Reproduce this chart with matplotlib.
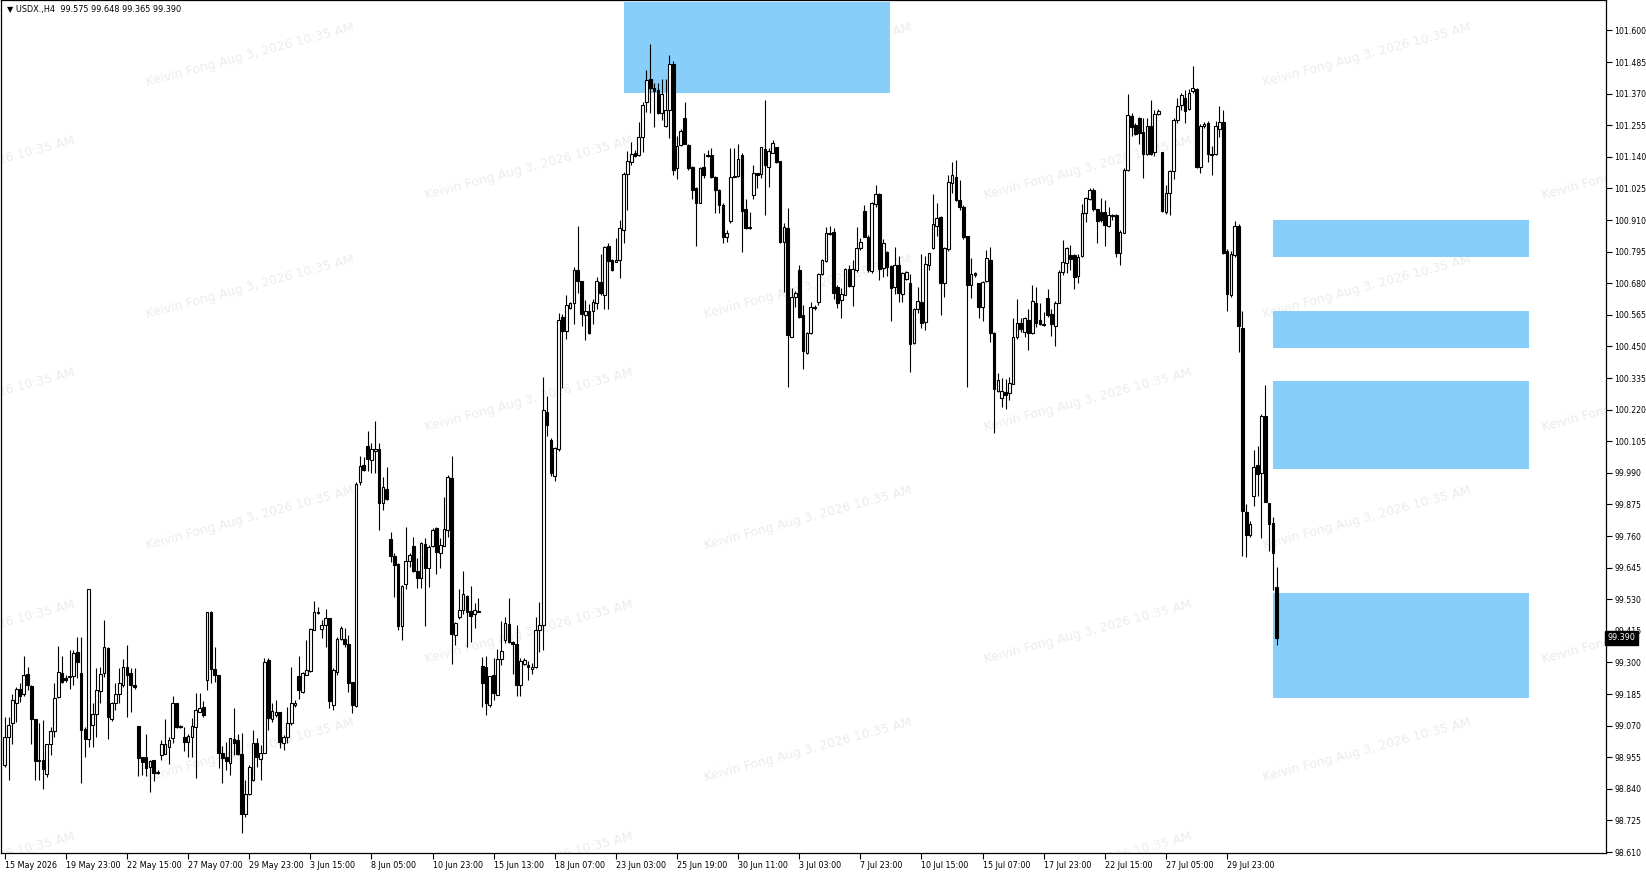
import numpy as np
import matplotlib
matplotlib.use("Agg")
import matplotlib.pyplot as plt
import matplotlib.transforms as mtransforms
from matplotlib.patches import Rectangle

# USDX H4 candles
opens = [
    98.926, 99.029, 99.078, 99.151, 99.205, 99.185, 99.258, 99.214, 99.093, 98.945,
    98.945, 98.894, 99.003, 99.051, 99.175, 99.260, 99.242, 99.248, 99.250, 99.339,
    99.260, 99.056, 99.023, 99.072, 99.114, 99.197, 99.260, 99.351, 99.096, 99.151,
    99.185, 99.218, 99.283, 99.261, 99.218, 99.067, 98.957, 98.955, 98.919, 98.945,
    98.903, 98.964, 98.967, 98.994, 99.024, 99.152, 99.064, 99.030, 99.012, 99.030,
    99.064, 99.121, 99.137, 99.236, 99.482, 99.275, 99.255, 98.970, 98.957, 98.933,
    99.021, 99.018, 98.967, 98.749, 98.822, 98.873, 99.006, 98.948, 98.970, 99.309,
    99.093, 99.109, 99.121, 99.008, 99.028, 99.079, 99.145, 99.249, 99.194, 99.255,
    99.270, 99.418, 99.485, 99.421, 99.437, 99.461, 99.145, 99.267, 99.384, 99.384,
    99.367, 99.230, 99.142, 99.955, 100.019, 100.086, 100.037, 100.071, 100.076, 99.882,
    99.930, 99.748, 99.688, 99.659, 99.431, 99.586, 99.671, 99.724, 99.634, 99.606,
    99.731, 99.643, 99.724, 99.788, 99.697, 99.724, 99.782, 99.970, 99.400, 99.465,
    99.491, 99.542, 99.489, 99.477, 99.489, 99.287, 99.285, 99.145, 99.255, 99.182,
    99.312, 99.382, 99.439, 99.374, 99.368, 99.219, 99.294, 99.291, 99.275, 99.283,
    99.419, 99.435, 100.212, 100.111, 99.980, 100.076, 100.556, 100.505, 100.591, 100.607,
    100.729, 100.688, 100.564, 100.580, 100.580, 100.607, 100.684, 100.639, 100.816, 100.764,
    100.756, 100.764, 100.873, 101.077, 101.120, 101.153, 101.147, 101.213, 101.341, 101.422,
    101.389, 101.383, 101.298, 101.252, 101.310, 101.478, 101.098, 101.183, 101.280, 101.183,
    101.104, 101.025, 100.973, 101.102, 101.147, 101.147, 101.068, 101.019, 100.965, 100.849,
    100.908, 101.068, 101.070, 101.147, 100.949, 100.886, 101.001, 101.080, 101.078, 101.167,
    101.104, 101.155, 101.175, 101.126, 100.831, 100.880, 100.483, 100.631, 100.728, 100.565,
    100.425, 100.498, 100.595, 100.613, 100.714, 100.762, 100.859, 100.868, 100.665, 100.619,
    100.637, 100.731, 100.670, 100.728, 100.807, 100.944, 100.850, 100.726, 100.969, 101.005,
    100.734, 100.795, 100.743, 100.665, 100.747, 100.641, 100.694, 100.682, 100.461, 100.585,
    100.613, 100.540, 100.747, 100.807, 100.888, 100.920, 100.680, 100.803, 101.046, 101.068,
    100.983, 100.956, 100.852, 100.674, 100.716, 100.680, 100.595, 100.690, 100.765, 100.500,
    100.289, 100.261, 100.285, 100.279, 100.315, 100.483, 100.536, 100.503, 100.548, 100.500,
    100.609, 100.546, 100.531, 100.628, 100.568, 100.524, 100.609, 100.722, 100.752, 100.782,
    100.782, 100.706, 100.779, 100.934, 100.985, 101.019, 100.949, 100.940, 100.940, 100.888,
    100.928, 100.928, 100.791, 100.864, 101.094, 101.288, 101.255, 101.283, 101.230, 101.151,
    101.252, 101.158, 101.297, 101.158, 100.938, 101.007, 101.088, 101.276, 101.328, 101.356,
    101.314, 101.378, 101.388, 101.105, 101.252, 101.262, 101.151, 101.151, 101.241, 101.266,
    100.799, 100.636, 100.782, 100.890, 100.517, 99.849, 99.765, 99.907, 100.019, 99.988,
    100.197, 99.879, 99.807, 99.575,
]
highs = [
    99.102, 99.102, 99.187, 99.211, 99.224, 99.323, 99.284, 99.218, 99.096, 99.078,
    99.090, 99.005, 99.066, 99.224, 99.359, 99.323, 99.254, 99.345, 99.345, 99.393,
    99.393, 99.066, 99.569, 99.151, 99.278, 99.282, 99.454, 99.357, 99.157, 99.224,
    99.278, 99.311, 99.364, 99.279, 99.279, 99.067, 98.957, 99.040, 98.945, 98.945,
    98.909, 99.018, 99.093, 99.030, 99.178, 99.152, 99.072, 99.064, 99.040, 99.097,
    99.190, 99.190, 99.158, 99.485, 99.489, 99.358, 99.255, 98.996, 99.012, 99.024,
    99.133, 99.040, 99.042, 98.873, 98.927, 99.054, 99.024, 99.000, 99.315, 99.315,
    99.152, 99.164, 99.121, 99.036, 99.139, 99.283, 99.164, 99.324, 99.267, 99.382,
    99.424, 99.525, 99.501, 99.455, 99.494, 99.461, 99.279, 99.394, 99.431, 99.424,
    99.400, 99.230, 99.955, 100.052, 100.049, 100.144, 100.100, 100.180, 100.098, 99.976,
    100.010, 99.776, 99.697, 99.661, 99.582, 99.792, 99.697, 99.756, 99.679, 99.740,
    99.752, 99.728, 99.788, 99.792, 99.752, 99.901, 99.982, 100.052, 99.449, 99.566,
    99.634, 99.546, 99.579, 99.518, 99.534, 99.321, 99.324, 99.251, 99.315, 99.348,
    99.452, 99.467, 99.535, 99.379, 99.435, 99.315, 99.315, 99.307, 99.299, 99.467,
    99.519, 100.340, 100.268, 100.116, 100.084, 100.572, 100.569, 100.636, 100.612, 100.740,
    100.889, 100.688, 100.620, 100.604, 100.623, 100.704, 100.788, 100.816, 100.825, 100.767,
    100.844, 100.909, 101.085, 101.161, 101.194, 101.165, 101.268, 101.341, 101.458, 101.550,
    101.410, 101.410, 101.422, 101.425, 101.510, 101.490, 101.216, 101.240, 101.341, 101.187,
    101.106, 101.029, 101.104, 101.153, 101.165, 101.171, 101.070, 101.022, 100.971, 100.874,
    101.171, 101.174, 101.187, 101.153, 100.985, 100.940, 101.110, 101.083, 101.177, 101.347,
    101.171, 101.201, 101.177, 101.126, 100.898, 100.953, 100.662, 100.653, 100.747, 100.601,
    100.504, 100.613, 100.601, 100.719, 100.767, 100.886, 100.888, 100.880, 100.674, 100.662,
    100.734, 100.747, 100.765, 100.886, 100.844, 100.965, 100.856, 100.977, 101.038, 101.010,
    100.840, 100.799, 100.747, 100.811, 100.779, 100.722, 100.726, 100.714, 100.589, 100.668,
    100.787, 100.779, 100.791, 101.005, 100.971, 100.925, 100.813, 101.074, 101.123, 101.129,
    101.056, 100.965, 100.852, 100.771, 100.722, 100.682, 100.690, 100.801, 100.813, 100.504,
    100.355, 100.334, 100.330, 100.340, 100.552, 100.621, 100.552, 100.558, 100.585, 100.673,
    100.667, 100.607, 100.576, 100.661, 100.588, 100.616, 100.728, 100.837, 100.813, 100.819,
    100.788, 100.788, 100.970, 100.995, 101.025, 101.025, 100.952, 100.989, 100.983, 100.958,
    100.932, 100.932, 100.873, 101.098, 101.368, 101.300, 101.262, 101.286, 101.283, 101.283,
    101.346, 101.311, 101.314, 101.158, 101.039, 101.092, 101.283, 101.353, 101.374, 101.383,
    101.388, 101.471, 101.392, 101.258, 101.266, 101.269, 101.179, 101.269, 101.325, 101.311,
    100.803, 100.796, 100.907, 100.896, 100.580, 99.877, 99.814, 100.072, 100.088, 100.204,
    100.311, 99.879, 99.828, 99.648,
]
lows = [
    98.920, 98.872, 99.005, 99.084, 99.157, 99.177, 99.199, 99.005, 98.874, 98.872,
    98.841, 98.884, 98.963, 99.029, 99.169, 99.224, 99.230, 99.205, 99.218, 99.242,
    98.860, 98.957, 98.993, 98.993, 99.029, 99.151, 99.248, 99.023, 99.088, 99.127,
    99.151, 99.211, 99.103, 99.121, 99.205, 98.885, 98.891, 98.885, 98.830, 98.870,
    98.894, 98.945, 98.967, 98.931, 99.006, 99.061, 99.060, 98.976, 98.957, 98.957,
    98.879, 99.121, 99.103, 99.200, 99.224, 99.230, 98.915, 98.860, 98.909, 98.891,
    98.964, 98.964, 98.681, 98.739, 98.818, 98.867, 98.921, 98.873, 98.970, 99.054,
    99.085, 99.103, 98.988, 98.982, 99.006, 99.073, 99.139, 99.166, 99.188, 99.255,
    99.267, 99.418, 99.477, 99.388, 99.358, 99.133, 99.127, 99.255, 99.382, 99.358,
    99.194, 99.115, 99.139, 99.946, 99.998, 99.998, 99.991, 99.989, 99.782, 99.855,
    99.891, 99.667, 99.540, 99.418, 99.382, 99.566, 99.646, 99.631, 99.570, 99.570,
    99.431, 99.576, 99.722, 99.622, 99.643, 99.724, 99.758, 99.295, 99.364, 99.457,
    99.477, 99.358, 99.376, 99.424, 99.482, 99.139, 99.109, 99.139, 99.164, 99.182,
    99.291, 99.370, 99.371, 99.259, 99.179, 99.179, 99.291, 99.235, 99.259, 99.278,
    99.339, 99.347, 100.124, 99.980, 99.960, 100.068, 100.300, 100.476, 100.588, 100.532,
    100.644, 100.524, 100.473, 100.495, 100.532, 100.585, 100.636, 100.585, 100.588, 100.724,
    100.756, 100.700, 100.825, 100.948, 101.109, 101.140, 101.143, 101.159, 101.304, 101.301,
    101.247, 101.296, 101.274, 101.247, 101.207, 101.074, 101.058, 101.179, 101.187, 101.094,
    100.985, 100.815, 100.971, 101.062, 101.140, 101.062, 100.937, 100.934, 100.825, 100.831,
    100.900, 101.068, 101.068, 100.795, 100.876, 100.876, 100.986, 101.026, 101.062, 100.929,
    101.029, 101.153, 101.117, 100.825, 100.650, 100.304, 100.483, 100.592, 100.552, 100.367,
    100.423, 100.495, 100.583, 100.601, 100.710, 100.759, 100.856, 100.622, 100.589, 100.552,
    100.637, 100.665, 100.597, 100.722, 100.801, 100.847, 100.722, 100.719, 100.959, 100.692,
    100.704, 100.707, 100.544, 100.641, 100.613, 100.613, 100.692, 100.358, 100.459, 100.571,
    100.516, 100.510, 100.728, 100.803, 100.852, 100.565, 100.631, 100.799, 101.010, 100.981,
    100.947, 100.840, 100.304, 100.625, 100.704, 100.552, 100.544, 100.686, 100.468, 100.134,
    100.286, 100.229, 100.224, 100.255, 100.313, 100.479, 100.503, 100.485, 100.437, 100.495,
    100.522, 100.528, 100.524, 100.558, 100.488, 100.451, 100.607, 100.710, 100.716, 100.730,
    100.661, 100.682, 100.774, 100.904, 100.983, 100.944, 100.825, 100.904, 100.815, 100.886,
    100.912, 100.774, 100.746, 100.864, 101.089, 101.215, 101.220, 101.186, 101.063, 101.147,
    101.147, 101.144, 101.294, 100.938, 100.932, 100.928, 101.058, 101.262, 101.311, 101.262,
    101.311, 101.374, 101.099, 101.081, 101.244, 101.123, 101.074, 101.147, 101.214, 100.785,
    100.580, 100.629, 100.775, 100.431, 99.689, 99.684, 99.758, 99.870, 99.905, 99.754,
    99.884, 99.707, 99.563, 99.365,
]
closes = [
    99.029, 99.072, 99.163, 99.202, 99.177, 99.254, 99.218, 99.096, 98.942, 98.942,
    98.914, 99.003, 99.051, 99.169, 99.266, 99.230, 99.236, 99.250, 99.335, 99.300,
    99.054, 99.020, 99.569, 99.114, 99.199, 99.258, 99.357, 99.102, 99.151, 99.187,
    99.224, 99.284, 99.255, 99.218, 99.212, 98.951, 98.939, 98.915, 98.943, 98.899,
    98.897, 99.004, 99.004, 99.016, 99.152, 99.064, 99.069, 99.012, 99.034, 99.069,
    99.127, 99.133, 99.109, 99.482, 99.275, 99.255, 98.970, 98.951, 98.943, 99.024,
    99.008, 98.967, 98.749, 98.822, 98.921, 99.006, 98.957, 98.972, 99.303, 99.097,
    99.125, 99.121, 99.012, 99.028, 99.081, 99.152, 99.152, 99.198, 99.261, 99.273,
    99.421, 99.485, 99.479, 99.437, 99.461, 99.158, 99.273, 99.384, 99.424, 99.367,
    99.227, 99.145, 99.950, 100.015, 100.001, 100.039, 100.076, 100.076, 99.882, 99.938,
    99.894, 99.688, 99.655, 99.433, 99.579, 99.671, 99.690, 99.634, 99.606, 99.734,
    99.643, 99.722, 99.782, 99.703, 99.728, 99.785, 99.976, 99.404, 99.443, 99.491,
    99.549, 99.482, 99.469, 99.491, 99.484, 99.224, 99.152, 99.249, 99.188, 99.312,
    99.343, 99.443, 99.374, 99.368, 99.219, 99.304, 99.310, 99.283, 99.283, 99.419,
    99.435, 100.217, 100.164, 99.988, 100.079, 100.548, 100.505, 100.601, 100.607, 100.729,
    100.688, 100.569, 100.580, 100.500, 100.612, 100.688, 100.644, 100.812, 100.761, 100.729,
    100.764, 100.880, 101.077, 101.125, 101.152, 101.143, 101.213, 101.328, 101.419, 101.389,
    101.381, 101.298, 101.368, 101.310, 101.478, 101.094, 101.179, 101.235, 101.187, 101.098,
    101.019, 100.973, 101.098, 101.074, 101.143, 101.065, 101.019, 100.965, 100.849, 100.864,
    101.068, 101.070, 101.131, 100.944, 100.880, 100.880, 101.080, 101.074, 101.177, 101.110,
    101.163, 101.189, 101.123, 100.831, 100.884, 100.492, 100.629, 100.646, 100.556, 100.435,
    100.500, 100.592, 100.589, 100.714, 100.765, 100.862, 100.864, 100.643, 100.609, 100.641,
    100.731, 100.670, 100.731, 100.807, 100.831, 100.850, 100.728, 100.973, 101.005, 100.731,
    100.825, 100.738, 100.662, 100.747, 100.646, 100.719, 100.722, 100.459, 100.585, 100.617,
    100.537, 100.750, 100.789, 100.896, 100.916, 100.680, 100.807, 101.050, 101.074, 100.983,
    100.959, 100.850, 100.674, 100.714, 100.710, 100.595, 100.686, 100.771, 100.500, 100.294,
    100.328, 100.289, 100.273, 100.318, 100.485, 100.534, 100.512, 100.552, 100.500, 100.616,
    100.536, 100.531, 100.528, 100.564, 100.531, 100.609, 100.722, 100.758, 100.810, 100.770,
    100.704, 100.776, 100.936, 100.989, 101.019, 100.949, 100.907, 100.910, 100.892, 100.928,
    100.924, 100.791, 100.867, 101.094, 101.292, 101.249, 101.225, 101.227, 101.151, 101.252,
    101.151, 101.297, 101.308, 100.942, 101.007, 101.088, 101.276, 101.325, 101.367, 101.308,
    101.374, 101.392, 101.102, 101.252, 101.258, 101.151, 101.147, 101.252, 101.266, 100.789,
    100.640, 100.785, 100.890, 100.524, 99.852, 99.765, 99.804, 100.013, 99.985, 100.197,
    99.884, 99.804, 99.698, 99.390,
]

# date labels, one every 16 bars
date_labels = ["15 May 2026", "19 May 23:00", "22 May 15:00", "27 May 07:00", "29 May 23:00",
               "3 Jun 15:00", "8 Jun 05:00", "10 Jun 23:00", "15 Jun 13:00", "18 Jun 07:00",
               "23 Jun 03:00", "25 Jun 19:00", "30 Jun 11:00", "3 Jul 03:00", "7 Jul 23:00",
               "10 Jul 15:00", "15 Jul 07:00", "17 Jul 23:00", "22 Jul 15:00", "27 Jul 05:00",
               "29 Jul 23:00"]
label_step = 16

# blue zones (bar index from / to, price top / bottom)
zone_start = [162.0, 332.1, 332.1, 332.1, 332.1]
zone_end = [231.8, 399.1, 399.1, 399.1, 399.1]
zone_top = [101.703, 100.910, 100.580, 100.325, 99.553]
zone_bottom = [101.371, 100.775, 100.446, 100.004, 99.172]

price_ticks = np.round(np.arange(98.610, 101.6005, 0.115), 3)
title = "USDX.,H4  99.575 99.648 99.365 99.390"
last_price = closes[-1]
watermark = "Keivin Fong Aug 3, 2026 10:35 AM"

W, H = 1646, 873
fig = plt.figure(figsize=(W / 100, H / 100), dpi=100)
fig.patch.set_facecolor("white")
ax = fig.add_axes([1 / W, 20 / H, 1605 / W, 853 / H])
ax.set_facecolor("white")

n = len(closes)
x = np.arange(n)
o = np.array(opens)
c = np.array(closes)
hi = np.array(highs)
lo = np.array(lows)

for s, e, t, b in zip(zone_start, zone_end, zone_top, zone_bottom):
    ax.add_patch(Rectangle((s, b), e - s, t - b, facecolor="#87cefa", edgecolor="none", zorder=1))

# watermark grid (screen positions)
for col in range(-1, 7):
    cx = 238 + 266 * col
    y0 = 52 if col % 2 == 0 else 160
    for row in range(-1, 5):
        cy = y0 + 221 * row
        xf = (cx * W / 1568 - 1) / 1605
        yf = 1 - (cy * H / 832) / 853
        ax.text(xf, yf, watermark, transform=ax.transAxes, fontsize=9, color="#ececec",
                rotation=15, ha="center", va="center", rotation_mode="anchor",
                clip_on=True, zorder=0.5)

ax.vlines(x, lo, hi, color="black", linewidth=0.8, zorder=2)
bull = c >= o
ax.bar(x[bull], (c - o)[bull], bottom=o[bull], width=0.7, facecolor="white",
       edgecolor="black", linewidth=0.8, zorder=3)
ax.bar(x[~bull], (o - c)[~bull], bottom=c[~bull], width=0.7, facecolor="black",
       edgecolor="black", linewidth=0.8, zorder=3)

ax.set_xlim(-0.97, 419.2)
ax.set_ylim(98.6065, 101.711)

ax.yaxis.tick_right()
ax.set_yticks(price_ticks)
ax.set_yticklabels(["%.3f" % v for v in price_ticks])
ax.tick_params(axis="y", direction="out", length=4, width=0.8, labelsize=5.6, pad=2, colors="black")

ticks = np.arange(0, n, label_step)[:len(date_labels)]
ax.set_xticks(ticks)
ax.set_xticklabels(date_labels)
for lab in ax.get_xticklabels():
    lab.set_horizontalalignment("left")
ax.tick_params(axis="x", direction="out", length=4, width=0.8, labelsize=5.8, pad=1.5, colors="black")

for sp in ax.spines.values():
    sp.set_color("black")
    sp.set_linewidth(0.9)

ax.text(0.004, 0.994, "\u25bc " + title, transform=ax.transAxes, fontsize=5.9,
        ha="left", va="top", color="black")

trans = mtransforms.blended_transform_factory(ax.transAxes, ax.transData)
ax.text(1.001, last_price, "%.3f" % last_price, transform=trans, fontsize=5.8, color="white",
        ha="left", va="center", zorder=10,
        bbox=dict(boxstyle="square,pad=0.3", facecolor="black", edgecolor="black"))

fig.savefig("out.png", dpi=100, facecolor="white")
